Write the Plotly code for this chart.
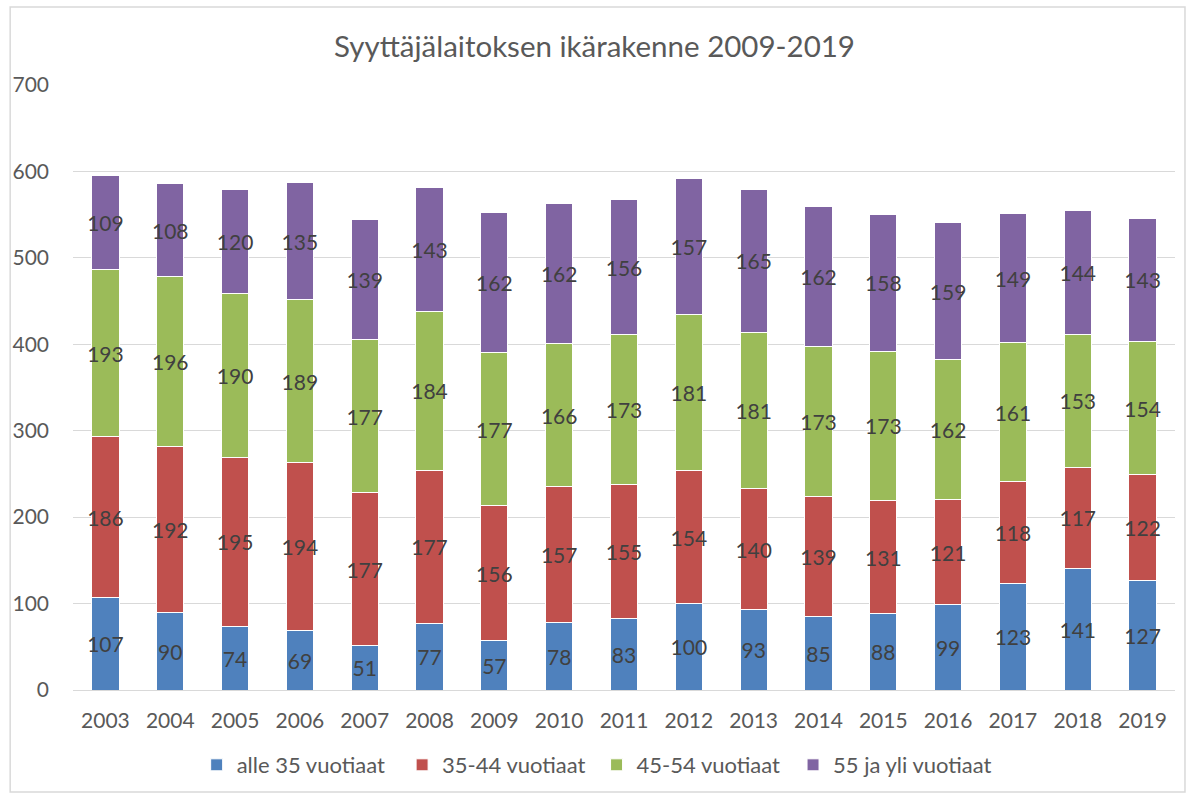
import plotly.graph_objects as go

years = [str(y) for y in range(2003, 2020)]
alle35 = [107, 90, 74, 69, 51, 77, 57, 78, 83, 100, 93, 85, 88, 99, 123, 141, 127]
v35_44 = [186, 192, 195, 194, 177, 177, 156, 157, 155, 154, 140, 139, 131, 121, 118, 117, 122]
v45_54 = [193, 196, 190, 189, 177, 184, 177, 166, 173, 181, 181, 173, 173, 162, 161, 153, 154]
v55 = [109, 108, 120, 135, 139, 143, 162, 162, 156, 157, 165, 162, 158, 159, 149, 144, 143]

series = [
    ("alle 35 vuotiaat", alle35, "#4F81BD"),
    ("35-44 vuotiaat", v35_44, "#C0504D"),
    ("45-54 vuotiaat", v45_54, "#9BBB59"),
    ("55 ja yli vuotiaat", v55, "#8064A2"),
]
legend_text_x = [237, 443, 638, 835]  # px where each legend label starts

FONT = "Lato, 'Open Sans', sans-serif"
W, H = 1189, 799
ml, mr, mt, mb = 70, 14, 85, 109
pw = W - ml - mr
ph = H - mt - mb

def px(x):
    return (x - ml) / pw

def py(y):
    return (H - mb - y) / ph

fig = go.Figure()
legend_layouts = {}
for i, (name, vals, col) in enumerate(series):
    lname = "legend" if i == 0 else f"legend{i + 1}"
    fig.add_trace(go.Bar(
        x=years, y=vals, name=name, legend=lname, showlegend=True,
        marker=dict(color=col, line=dict(color="white", width=1)),
        text=[str(v) for v in vals], textposition="inside",
        insidetextanchor="middle", textangle=0,
        textfont=dict(color="#404040", size=21, family=FONT),
        cliponaxis=False,
    ))
    legend_layouts[lname] = dict(
        x=px(legend_text_x[i] - 43), xanchor="left", y=py(765), yanchor="middle",
        orientation="h", font=dict(size=22, color="#595959", family=FONT),
        itemwidth=30, borderwidth=0, bgcolor="rgba(0,0,0,0)", visible=True,
    )

fig.update_layout(
    showlegend=True,
    barmode="stack",
    bargap=0.58,
    width=W, height=H,
    margin=dict(l=ml, r=mr, t=mt, b=mb),
    paper_bgcolor="white", plot_bgcolor="white",
    font=dict(family=FONT, color="#595959", size=20),
    title=dict(text="Syyttäjälaitoksen ikärakenne 2009-2019", x=0.5, xanchor="center",
               y=1 - 47 / H, yanchor="middle",
               font=dict(size=29.5, color="#595959", family=FONT)),
    uniformtext=dict(minsize=21, mode="show"),
    xaxis=dict(showgrid=False, showline=True, linecolor="#D9D9D9", linewidth=1,
               ticks="", tickfont=dict(size=21, color="#595959"), ticklabelstandoff=12),
    yaxis=dict(range=[0, 700], dtick=100, showgrid=True, gridcolor="#D9D9D9", gridwidth=1,
               zeroline=False, showline=False, ticks="",
               tickfont=dict(size=21, color="#595959"), ticklabelstandoff=23),
    shapes=[dict(type="rect", xref="paper", yref="paper",
                 x0=px(7), x1=px(1185), y0=py(792), y1=py(7),
                 line=dict(color="#D9D9D9", width=1.5), fillcolor="rgba(0,0,0,0)", layer="below")],
    **legend_layouts,
)

fig.write_html("out.html", post_script="document.body.style.margin='0';",
               config={"displayModeBar": False})
